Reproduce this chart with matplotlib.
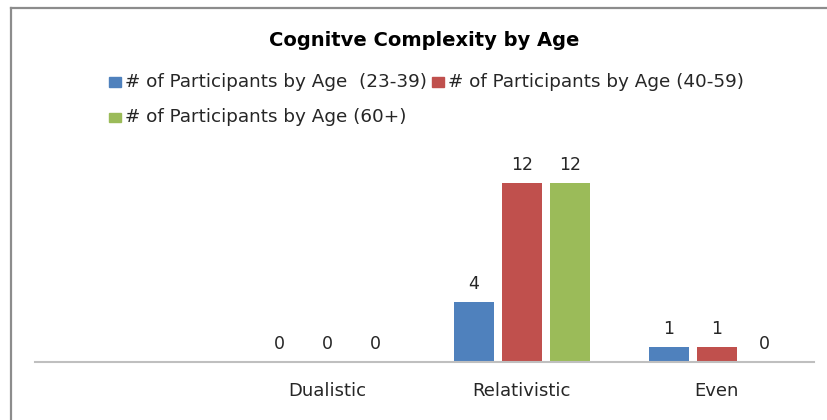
import matplotlib
matplotlib.use("Agg")
import matplotlib.pyplot as plt
from matplotlib.patches import Rectangle
from matplotlib.lines import Line2D
import numpy as np

plt.rcParams['font.family'] = ['DejaVu Sans']

title = "Cognitve Complexity by Age"
categories = ["", "Dualistic", "Relativistic", "Even"]
series_names = [
    "# of Participants by Age  (23-39)",
    "# of Participants by Age (40-59)",
    "# of Participants by Age (60+)",
]
ages_23_39 = [None, 0, 4, 1]
ages_40_59 = [None, 0, 12, 1]
ages_60_plus = [None, 0, 12, 0]
series_values = [ages_23_39, ages_40_59, ages_60_plus]
colors = ["#4f81bd", "#c0504d", "#9bbb59"]

W, H = 827, 420
fig = plt.figure(figsize=(W / 100, H / 100), dpi=100)

# plot area
ax = fig.add_axes([35 / W, 58 / H, (814 - 35) / W, (362 - 153) / H])
x = np.arange(len(categories))
bar_w = 0.205
step = 0.246
txt_color = "#262626"
for i, (vals, col) in enumerate(zip(series_values, colors)):
    pos = x + (i - 1) * step
    for p, v in zip(pos, vals):
        if v is None:
            continue
        ax.bar(p, v, width=bar_w, color=col, zorder=2)
        ax.text(p, v + 0.6, f"{v}", ha="center", va="bottom",
                fontsize=12.5, color=txt_color)

ax.set_xlim(-0.5, len(categories) - 0.5)
ax.set_ylim(0, 14)
ax.set_yticks([])
ax.set_xticks(x)
ax.set_xticklabels(categories, fontsize=13, color=txt_color)
ax.tick_params(axis="x", length=0, pad=14.5)
for s in ["top", "right", "left"]:
    ax.spines[s].set_visible(False)
ax.spines["bottom"].set_color("#bfbfbf")
ax.spines["bottom"].set_linewidth(1.5)
ax.patch.set_alpha(0)

# title
fig.text(424 / W, 1 - 40 / H, title, ha="center", va="center",
         fontsize=14, fontweight="bold", color="black")

# legend
legend_pos = [(109, 82), (432, 82), (109, 117)]
for (lx, ly), name, col in zip(legend_pos, series_names, colors):
    fig.add_artist(Rectangle((lx / W, 1 - (ly + 4.5) / H), 12 / W, 9 / H,
                             transform=fig.transFigure, color=col))
    fig.text((lx + 16) / W, 1 - ly / H, name, ha="left", va="center",
             fontsize=13.2, color=txt_color)

# chart border
border = "#8c8c8c"
fig.add_artist(Line2D([11 / W, 11 / W], [0, 1 - 8 / H], transform=fig.transFigure,
                      color=border, lw=1.6))
fig.add_artist(Line2D([11 / W, 826 / W], [1 - 8 / H, 1 - 8 / H], transform=fig.transFigure,
                      color=border, lw=1.6))

fig.savefig("out.png", dpi=100)
